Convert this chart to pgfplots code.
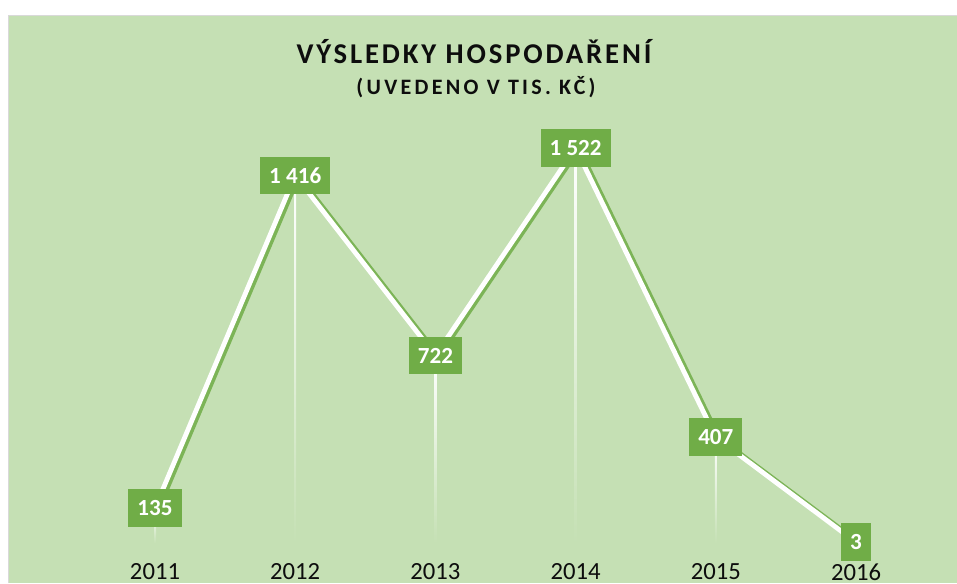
\documentclass[border=0pt]{standalone}
\usepackage{pgfplots}
\pgfplotsset{compat=1.18}
\usepackage{fontspec}
\setmainfont{Carlito}
\definecolor{bg}{HTML}{C5E0B4}
\definecolor{grn}{HTML}{70AD47}
\definecolor{txt}{HTML}{0D0D0D}
\begin{document}
\begin{tikzpicture}
\clip (0pt,0pt) rectangle (717.75pt,-437.25pt);
\begin{scope}[x=0.75pt,y=-0.75pt]
\fill[white] (0,0) rectangle (957,583);
\fill[bg] (8,15) rectangle (957,583);
\draw[black!15, line width=0.75pt] (8,583) -- (8,15) -- (957,15);
\node[anchor=base, inner sep=0pt, text=txt, font=\bfseries\fontsize{21.5}{25}\selectfont\addfontfeatures{LetterSpace=10}] at (474,63.3) {VÝSLEDKY HOSPODAŘENÍ};
\node[anchor=base, inner sep=0pt, text=txt, font=\bfseries\fontsize{16.5}{20}\selectfont\addfontfeatures{LetterSpace=15}] at (476,94) {(UVEDENO V TIS. KČ)};
\end{scope}
\begin{axis}[
  at={(63.675pt,-407.25pt)}, anchor=south west,
  scale only axis, width=630.9pt, height=311.5pt,
  xmin=-0.5, xmax=5.5, ymin=0, ymax=1600,
  axis line style={draw=none}, tick style={draw=none},
  ytick=\empty,
  xtick={0,1,2,3,4,5},
  xticklabels={2011,2012,2013,2014,2015,2016},
  xticklabel style={font=\fontsize{18.5}{22}\selectfont, text=txt, yshift=-12pt},
  clip=false,
]
\addplot[ybar, bar width=1.5pt, draw=none, top color=white, bottom color=bg] coordinates {(0,135)};
\addplot[ybar, bar width=1.5pt, draw=none, top color=white, bottom color=bg] coordinates {(1,1416)};
\addplot[ybar, bar width=1.5pt, draw=none, top color=white, bottom color=bg] coordinates {(2,722)};
\addplot[ybar, bar width=1.5pt, draw=none, top color=white, bottom color=bg] coordinates {(3,1522)};
\addplot[ybar, bar width=1.5pt, draw=none, top color=white, bottom color=bg] coordinates {(4,407)};
\addplot[ybar, bar width=1.5pt, draw=none, top color=white, bottom color=bg] coordinates {(5,3)};
\addplot[grn, line width=3.6pt, xshift=2.6pt, yshift=-0.6pt, opacity=0.85, no markers] coordinates {(0,135) (1,1416) (2,722) (3,1522) (4,407) (5,3)};
\addplot[white, line width=3.6pt, no markers,
  nodes near coords={\pgfmathprintnumber[1000 sep={\ }, assume math mode=true]{\pgfplotspointmeta}},
  every node near coord/.append style={anchor=center, fill=grn, text=white,
    font=\bfseries\fontsize{17.3}{20}\selectfont, inner xsep=6.75pt, inner ysep=0pt,
    minimum height=28.3pt, opacity=1},
] coordinates {(0,135) (1,1416) (2,722) (3,1522) (4,407) (5,3)};
\end{axis}
\end{tikzpicture}
\end{document}
